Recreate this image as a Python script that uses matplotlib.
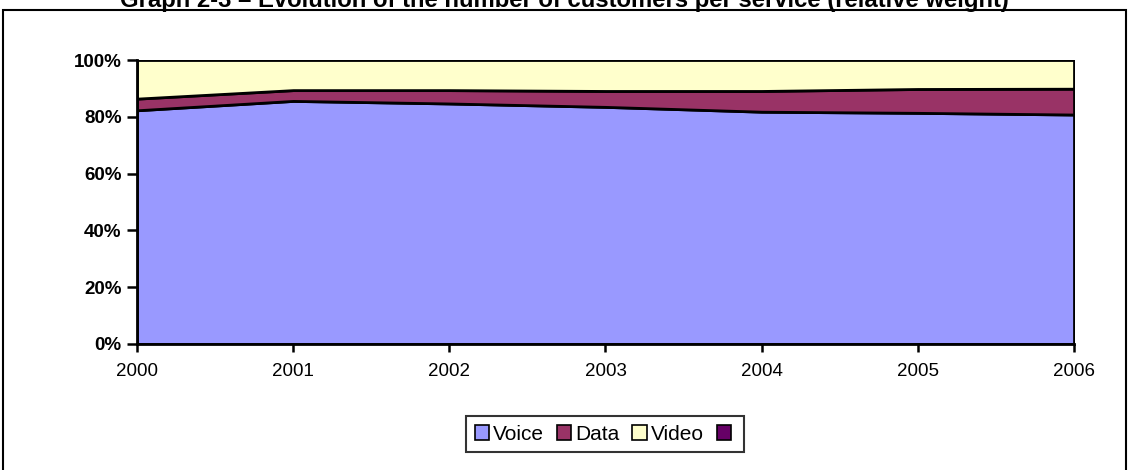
import matplotlib
matplotlib.use("Agg")
import matplotlib.pyplot as plt
from matplotlib.patches import Patch, Rectangle
from matplotlib.ticker import PercentFormatter

plt.rcParams['font.family'] = ['Liberation Sans', 'DejaVu Sans']

# Share of customers per service (%)
years = [2000, 2001, 2002, 2003, 2004, 2005, 2006]
voice = [82.3, 85.6, 84.7, 83.5, 81.8, 81.4, 80.8]
data = [4.1, 3.8, 4.7, 5.6, 7.3, 8.4, 9.1]
other = [0, 0, 0, 0, 0, 0, 0]
video = [100 - v - d - o for v, d, o in zip(voice, data, other)]

series_names = ['Voice', 'Data', 'Video', '']
series_colors = ['#9999FF', '#993366', '#FFFFCC', '#660066']

fig = plt.figure(figsize=(11.29, 4.70), dpi=100)
ax = fig.add_axes([0.1213, 0.2681, 0.9513 - 0.1213, 0.8723 - 0.2681])

ax.stackplot(years, voice, data, video,
             colors=series_colors[:3], edgecolor='black', linewidth=2)

ax.set_xlim(2000, 2006)
ax.set_ylim(0, 100)
ax.set_xticks(years)
ax.set_yticks([0, 20, 40, 60, 80, 100])
ax.yaxis.set_major_formatter(PercentFormatter(decimals=0))
for lbl in ax.get_yticklabels():
    lbl.set_fontweight('bold')
ax.tick_params(axis='y', labelsize=13.5, length=7, width=1.8, pad=4)
ax.tick_params(axis='x', labelsize=13.5, length=6, width=1.8, pad=8)
for side in ('top', 'right'):
    ax.spines[side].set_visible(False)
for side in ('left', 'bottom'):
    ax.spines[side].set_linewidth(2)

handles = [Patch(facecolor=c, edgecolor='black', linewidth=1.2) for c in series_colors]
leg = fig.legend(handles, series_names, loc='center', bbox_to_anchor=(605 / 1129, 1 - 434 / 470),
                 ncol=4, frameon=True, fancybox=False, fontsize=15,
                 handlelength=0.7, handleheight=0.7, handletextpad=0.2,
                 columnspacing=0.6, borderpad=0.4)
leg.get_frame().set_edgecolor('black')
leg.get_frame().set_linewidth(1.5)

# Outer frame of the figure panel
fig.patches.append(Rectangle((3 / 1129, -0.05), (1126 - 3) / 1129, 1.05 - 10 / 470,
                             transform=fig.transFigure, fill=False,
                             edgecolor='black', linewidth=1.5))

fig.text(0.5, 1 - 7 / 470,
         'Graph 2-3 \u2013 Evolution of the number of customers per service (relative weight)',
         ha='center', va='baseline', fontsize=17.2, fontweight='bold')

fig.savefig('out.png', dpi=100)
